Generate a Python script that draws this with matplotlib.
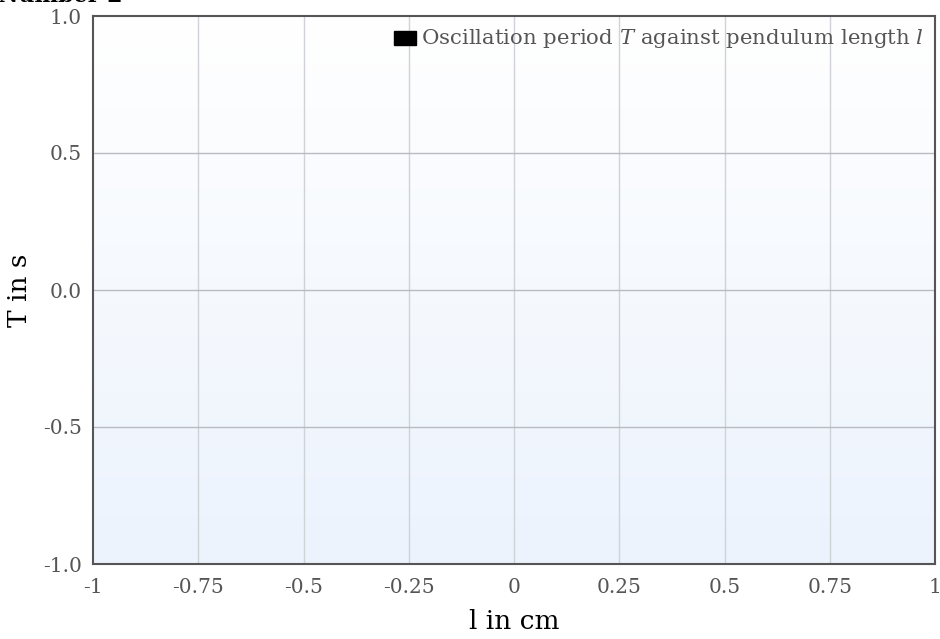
import numpy as np
import matplotlib
matplotlib.use('Agg')
import matplotlib.pyplot as plt
from matplotlib.patches import Rectangle

plt.rcParams['font.family'] = 'DejaVu Serif'
plt.rcParams['mathtext.fontset'] = 'dejavuserif'

# chart data (empty series, only axes)
x_ticks = [-1, -0.75, -0.5, -0.25, 0, 0.25, 0.5, 0.75, 1]
x_tick_labels = ['-1', '-0.75', '-0.5', '-0.25', '0', '0.25', '0.5', '0.75', '1']
y_ticks = [-1.0, -0.5, 0.0, 0.5, 1.0]
y_tick_labels = ['-1.0', '-0.5', '0.0', '0.5', '1.0']
series_x = []
series_y = []
series_name = 'Oscillation period $T$ against pendulum length $l$'

fig = plt.figure(figsize=(9.40, 6.39), dpi=100)
ax = fig.add_axes([93/940, 1 - 564/639, (935-93)/940, (564-16)/639])

# background gradient white (top) -> light blue (bottom)
grad = np.linspace(0, 1, 256).reshape(-1, 1)
top = np.array([1.0, 1.0, 1.0])
bot = np.array([0xec, 0xf3, 0xfd]) / 255
img = top + (bot - top) * grad[..., None]
ax.imshow(img, extent=[-1, 1, -1, 1], origin='upper', aspect='auto', zorder=0)

ax.set_xlim(-1, 1)
ax.set_ylim(-1, 1)
ax.set_xticks(x_ticks)
ax.set_xticklabels(x_tick_labels)
ax.set_yticks(y_ticks)
ax.set_yticklabels(y_tick_labels)
ax.tick_params(length=0, labelsize=14.5, labelcolor='#555555')
ax.tick_params(axis='x', pad=10)
ax.tick_params(axis='y', pad=8)

for xv in x_ticks[1:-1]:
    ax.axvline(xv, color='#cfd3d8', lw=1, zorder=1)
for yv in y_ticks[1:-1]:
    ax.axhline(yv, color='#b8bcc2', lw=1, zorder=1)

for s in ax.spines.values():
    s.set_color('#555555')
    s.set_linewidth(1.5)

ax.plot(series_x, series_y, color='black')

ax.set_xlabel('l in cm', fontsize=19, labelpad=9)
ax.set_ylabel('T in s', fontsize=19, labelpad=8)

# legend entry
ax.add_patch(Rectangle((0.3575, 0.947), 0.0261, 0.0255, transform=ax.transAxes,
                       color='black', zorder=3, clip_on=False))
ax.text(0.3895, 0.959, series_name, transform=ax.transAxes, fontsize=15.3,
        color='#555555', va='center', ha='left', zorder=3)

fig.text(-0.002, 1 - 2/639, 'Number 2', fontsize=16, fontweight='bold',
         va='baseline', ha='left')

fig.savefig('out.png', dpi=100)
